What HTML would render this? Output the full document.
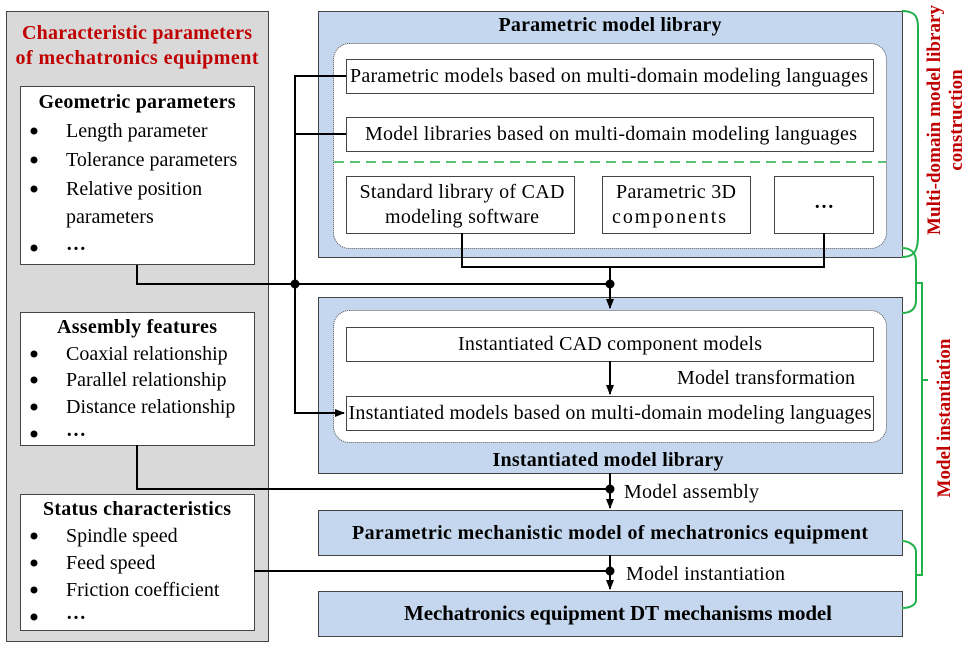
<!DOCTYPE html>
<html><head><meta charset="utf-8"><style>body{margin:0;background:#fff}svg{display:block}text{font-family:"Liberation Serif",serif}</style></head><body>
<svg width="973" height="646" viewBox="0 0 973 646" xmlns="http://www.w3.org/2000/svg">
<defs><marker id="a" markerWidth="10" markerHeight="10" refX="9" refY="5" orient="auto" markerUnits="userSpaceOnUse"><path d="M0,1 L10,5 L0,9z" fill="#000"/></marker></defs>
<rect x="6.5" y="11.5" width="262" height="630" fill="#d9d9d9" stroke="#444"/>
<text x="137" y="39" font-size="20" font-weight="bold" fill="#c00000" text-anchor="middle" textLength="230">Characteristic parameters</text>
<text x="137" y="64" font-size="20" font-weight="bold" fill="#c00000" text-anchor="middle" textLength="243">of mechatronics equipment</text>
<g font-size="20" fill="#000">
<rect x="20.5" y="86.5" width="234" height="178" fill="#fff" stroke="#444"/>
<text x="137" y="108" font-weight="bold" text-anchor="middle" textLength="197">Geometric parameters</text>
<circle cx="34" cy="131" r="3.5"/><text x="66" y="137">Length parameter</text>
<circle cx="34" cy="160" r="3.5"/><text x="66" y="166">Tolerance parameters</text>
<circle cx="34" cy="189" r="3.5"/><text x="66" y="195">Relative position</text>
<text x="66" y="223">parameters</text>
<circle cx="34" cy="248" r="3.5"/><text x="66" y="250" font-weight="bold">…</text>
<rect x="20.5" y="312.5" width="234" height="133" fill="#fff" stroke="#444"/>
<text x="137" y="333" font-weight="bold" text-anchor="middle" textLength="160">Assembly features</text>
<circle cx="34" cy="354" r="3.5"/><text x="66" y="360">Coaxial relationship</text>
<circle cx="34" cy="380" r="3.5"/><text x="66" y="386">Parallel relationship</text>
<circle cx="34" cy="407" r="3.5"/><text x="66" y="413">Distance relationship</text>
<circle cx="34" cy="434" r="3.5"/><text x="66" y="436" font-weight="bold">…</text>
<rect x="20.5" y="494.5" width="234" height="136" fill="#fff" stroke="#444"/>
<text x="137" y="515" font-weight="bold" text-anchor="middle" textLength="188">Status characteristics</text>
<circle cx="34" cy="536" r="3.5"/><text x="66" y="542">Spindle speed</text>
<circle cx="34" cy="563" r="3.5"/><text x="66" y="569">Feed speed</text>
<circle cx="34" cy="590" r="3.5"/><text x="66" y="596">Friction coefficient</text>
<circle cx="34" cy="617" r="3.5"/><text x="66" y="619" font-weight="bold">…</text>

<rect x="318.5" y="11.5" width="584" height="246" fill="#c5d7ee" stroke="#444"/>
<text x="610" y="31" font-weight="bold" text-anchor="middle" textLength="223">Parametric model library</text>
<rect x="333.5" y="43.5" width="553" height="205" rx="16" fill="#fff" stroke="#555" stroke-dasharray="1 1"/>
<rect x="346.5" y="59.5" width="527" height="34" fill="#fff" stroke="#444"/>
<text x="609" y="82" text-anchor="middle" textLength="518">Parametric models based on multi-domain modeling languages</text>
<rect x="346.5" y="117.5" width="527" height="34" fill="#fff" stroke="#444"/>
<text x="611" y="140" text-anchor="middle" textLength="492">Model libraries based on multi-domain modeling languages</text>
<line x1="334" y1="162" x2="886" y2="162" stroke="#22b04c" stroke-width="1.5" stroke-dasharray="10 6"/>
<rect x="346.5" y="176.5" width="228" height="57" fill="#fff" stroke="#444"/>
<text x="462" y="198" text-anchor="middle" textLength="205">Standard library of CAD</text>
<text x="462" y="223" text-anchor="middle" textLength="154">modeling software</text>
<rect x="602.5" y="176.5" width="148" height="57" fill="#fff" stroke="#444"/>
<text x="676" y="198" text-anchor="middle" textLength="120">Parametric 3D</text>
<text x="669" y="223" text-anchor="middle" textLength="114">components</text>
<rect x="774.5" y="176.5" width="99" height="57" fill="#fff" stroke="#444"/>
<text x="824" y="208" text-anchor="middle" font-weight="bold">…</text>

<rect x="318.5" y="297.5" width="584" height="176" fill="#c5d7ee" stroke="#444"/>
<rect x="333.5" y="310.5" width="553" height="132" rx="16" fill="#fff" stroke="#555" stroke-dasharray="1 1"/>
<rect x="346.5" y="327.5" width="527" height="34" fill="#fff" stroke="#444"/>
<text x="610" y="350" text-anchor="middle" textLength="304">Instantiated CAD component models</text>
<text x="766" y="384" text-anchor="middle" textLength="178">Model transformation</text>
<rect x="346.5" y="396.5" width="527" height="34" fill="#fff" stroke="#444"/>
<text x="610" y="419" text-anchor="middle" textLength="523">Instantiated models based on multi-domain modeling languages</text>
<text x="608" y="466" font-weight="bold" text-anchor="middle" textLength="231">Instantiated model library</text>
<text x="624" y="498" textLength="135">Model assembly</text>
<rect x="318.5" y="510.5" width="584" height="45" fill="#c5d7ee" stroke="#444"/>
<text x="610" y="539" font-weight="bold" text-anchor="middle" textLength="516">Parametric mechanistic model of mechatronics equipment</text>
<text x="626" y="580" textLength="159">Model instantiation</text>
<rect x="318.5" y="591.5" width="584" height="45" fill="#c5d7ee" stroke="#444"/>
<text x="618" y="620" font-weight="bold" font-size="21" text-anchor="middle" textLength="428">Mechatronics equipment DT mechanisms model</text>
</g>
<g stroke="#000" stroke-width="2" fill="none">
<path d="M346,76 H295 V413 H344" marker-end="url(#a)"/>
<path d="M295,134 H346"/>
<path d="M137,265 V284 H610"/>
<path d="M462,233 V267 H824 V233"/>
<path d="M610,267 V308" marker-end="url(#a)"/>
<path d="M610,361 V394" marker-end="url(#a)"/>
<path d="M137,445 V489 H610"/>
<path d="M610,473 V508" marker-end="url(#a)"/>
<path d="M254,571 H610"/>
<path d="M610,555 V589" marker-end="url(#a)"/>
</g>
<g fill="#000"><circle cx="295" cy="284" r="4.5"/><circle cx="610" cy="284" r="4.5"/><circle cx="610" cy="489" r="4.5"/><circle cx="610" cy="571" r="4.5"/></g>
<g stroke="#22b04c" stroke-width="2" fill="none">
<path d="M902,11 C918,11 918,20 918,30 V235 C918,250 915,257 902,257"/>
<path d="M902,248 C910,248 916,252 916,262 V300 C916,310 910,313 902,313"/>
<path d="M916,283 H922 V380 H928 M922,380 V575 H916"/>
<path d="M902,541 C908,541 916,545 916,552 V600 C916,605 910,608 902,608"/>
</g>
<text transform="translate(940,120) rotate(-90)" font-size="19" font-weight="bold" fill="#c00000" text-anchor="middle" textLength="230">Multi-domain model library</text>
<text transform="translate(962,120) rotate(-90)" font-size="19" font-weight="bold" fill="#c00000" text-anchor="middle">construction</text>
<text transform="translate(950,418) rotate(-90)" font-size="19" font-weight="bold" fill="#c00000" text-anchor="middle">Model instantiation</text>
</svg>
</body></html>
